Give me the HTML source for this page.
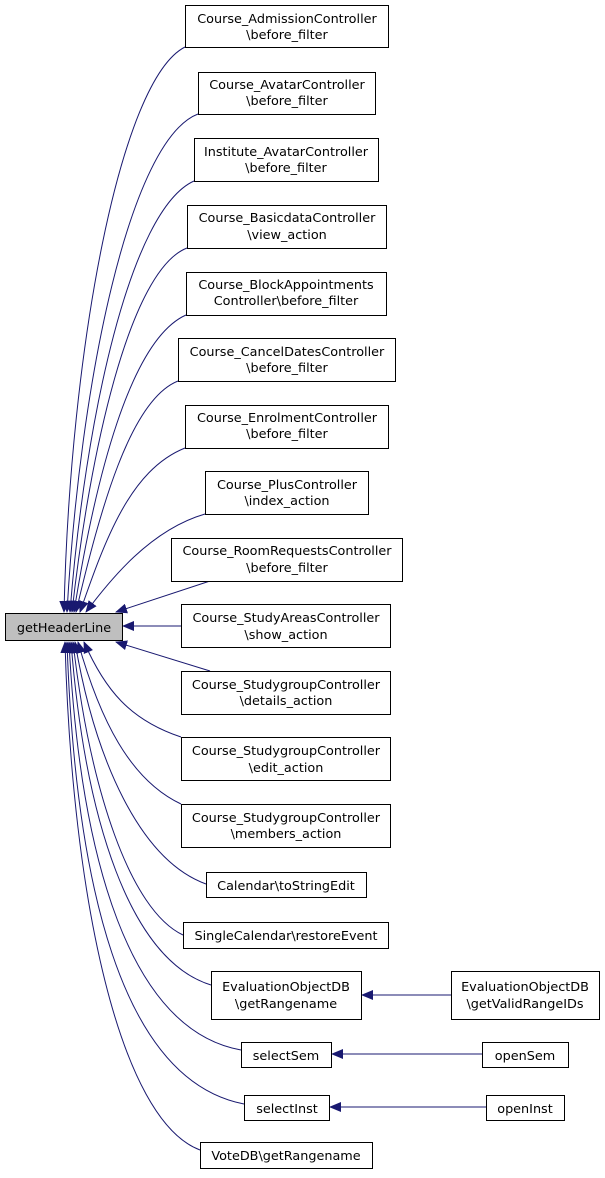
<!DOCTYPE html>
<html><head><style>
body{margin:0;background:#fff;}
svg text{font-family:"DejaVu Sans","Liberation Sans",sans-serif;font-size:12.8px;fill:#000;text-anchor:middle;}
</style></head><body>
<svg width="605" height="1173" xmlns="http://www.w3.org/2000/svg">
<defs><marker id="a" markerWidth="12" markerHeight="10" refX="11" refY="5" orient="auto" markerUnits="userSpaceOnUse"><path d="M0,0 L12,5 L0,10 z" fill="#191970"/></marker></defs>
<g fill="none" stroke="#191970" stroke-width="1" marker-end="url(#a)">
<path d="M185,47 C120,80 70,350 64,612"/>
<path d="M198,114 C130,140 80,380 67,612"/>
<path d="M194,181 C130,210 85,420 70,612"/>
<path d="M187,248 C130,270 90,450 72,612"/>
<path d="M186,315 C130,340 95,480 74,612"/>
<path d="M178,381 C130,400 100,510 76,612"/>
<path d="M185,448 C130,470 105,540 80,612"/>
<path d="M205,514 C150,530 110,580 86,612"/>
<path d="M210,581 L116,612"/>
<path d="M181,626 L123,626"/>
<path d="M210,671 L116,642"/>
<path d="M181,737 C130,720 105,690 84,642"/>
<path d="M181,804 C130,780 100,720 78,642"/>
<path d="M206,884 C140,860 95,760 75,642"/>
<path d="M183,935 C130,910 90,790 73,642"/>
<path d="M211,985 C130,960 85,820 71,642"/>
<path d="M241,1050 C130,1030 80,860 69,642"/>
<path d="M244,1104 C120,1080 75,880 67,642"/>
<path d="M200,1150 C120,1120 72,900 65,642"/>
<path d="M451,995 L362,995"/>
<path d="M482,1054 L332,1054"/>
<path d="M486,1107 L330,1107"/>
</g>
<g stroke="#000" stroke-width="1" fill="#fff">
<rect x="5.5" y="613.5" width="117" height="27" fill="#bfbfbf"/>
<rect x="185.5" y="5.5" width="203" height="42"/>
<rect x="198.5" y="72.5" width="177" height="42"/>
<rect x="194.5" y="138.5" width="184" height="43"/>
<rect x="187.5" y="205.5" width="199" height="43"/>
<rect x="186.5" y="272.5" width="200" height="43"/>
<rect x="178.5" y="338.5" width="217" height="43"/>
<rect x="185.5" y="405.5" width="203" height="43"/>
<rect x="205.5" y="471.5" width="163" height="43"/>
<rect x="171.5" y="538.5" width="231" height="43"/>
<rect x="181.5" y="604.5" width="209" height="43"/>
<rect x="181.5" y="671.5" width="209" height="43"/>
<rect x="181.5" y="737.5" width="209" height="43"/>
<rect x="181.5" y="804.5" width="209" height="43"/>
<rect x="206.5" y="872.5" width="160" height="25"/>
<rect x="183.5" y="922.5" width="205" height="26"/>
<rect x="211.5" y="971.5" width="150" height="48"/>
<rect x="241.5" y="1042.5" width="90" height="25"/>
<rect x="244.5" y="1095.5" width="85" height="25"/>
<rect x="200.5" y="1142.5" width="172" height="26"/>
<rect x="451.5" y="971.5" width="148" height="48"/>
<rect x="482.5" y="1042.5" width="86" height="25"/>
<rect x="486.5" y="1095.5" width="78" height="25"/>
</g>
<text x="64" y="632">getHeaderLine</text>
<text x="287" y="23">Course_AdmissionController</text><text x="287" y="39">\before_filter</text>
<text x="287" y="89">Course_AvatarController</text><text x="287" y="105">\before_filter</text>
<text x="286" y="156">Institute_AvatarController</text><text x="286" y="172">\before_filter</text>
<text x="287" y="222">Course_BasicdataController</text><text x="287" y="239">\view_action</text>
<text x="286" y="289">Course_BlockAppointments</text><text x="286" y="305">Controller\before_filter</text>
<text x="287" y="356">Course_CancelDatesController</text><text x="287" y="372">\before_filter</text>
<text x="287" y="422">Course_EnrolmentController</text><text x="287" y="438">\before_filter</text>
<text x="287" y="489">Course_PlusController</text><text x="287" y="505">\index_action</text>
<text x="287" y="555">Course_RoomRequestsController</text><text x="287" y="572">\before_filter</text>
<text x="286" y="622">Course_StudyAreasController</text><text x="286" y="639">\show_action</text>
<text x="286" y="689">Course_StudygroupController</text><text x="286" y="705">\details_action</text>
<text x="286" y="755">Course_StudygroupController</text><text x="286" y="772">\edit_action</text>
<text x="286" y="822">Course_StudygroupController</text><text x="286" y="838">\members_action</text>
<text x="286" y="890">Calendar\toStringEdit</text>
<text x="286" y="940">SingleCalendar\restoreEvent</text>
<text x="286" y="991">EvaluationObjectDB</text><text x="286" y="1008">\getRangename</text>
<text x="286" y="1060">selectSem</text>
<text x="287" y="1113">selectInst</text>
<text x="286" y="1160">VoteDB\getRangename</text>
<text x="525" y="991">EvaluationObjectDB</text><text x="525" y="1008">\getValidRangeIDs</text>
<text x="525" y="1060">openSem</text>
<text x="525" y="1113">openInst</text>
</svg>
</body></html>
